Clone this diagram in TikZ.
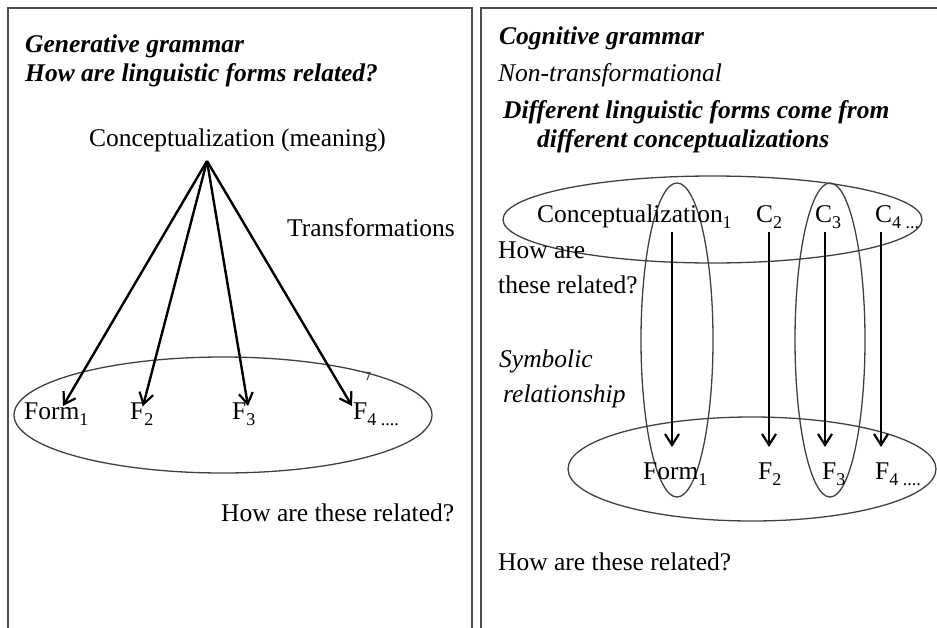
\documentclass[tikz,border=0pt]{standalone}
\usepackage{fontspec}
\setmainfont{Liberation Serif}
\usetikzlibrary{arrows.meta}
% subscript in a smaller size, set below the baseline
\newcommand{\sbs}[1]{\raisebox{-0.26em}{\fontsize{18}{18}\selectfont #1}}
\tikzset{
  txt/.style={anchor=base west, inner sep=0pt, font=\fontsize{25.5}{30}\selectfont},
  bfit/.style={txt, font=\fontsize{25.5}{30}\selectfont\bfseries\itshape},
  itx/.style={txt, font=\fontsize{25.5}{30}\selectfont\itshape},
  arr/.style={line width=2.4pt, black, -{Straight Barb[length=11pt,width=14pt,line width=2.2pt]}},
  ell/.style={draw=black!75, line width=1.3pt},
  panel/.style={draw=black!70, line width=1.8pt}
}
\begin{document}
\begin{tikzpicture}[x=1pt, y=-1pt]
\useasboundingbox (0,0) rectangle (937,627);

% panel frames
\draw[panel] (8,632) -- (8,8) -- (472,8) -- (472,632);
\draw[panel] (481,632) -- (481,8) -- (942,8);

% ---------- generative grammar ----------
\node[bfit] (gtitle) at (25,52) {Generative grammar};
\node[bfit] (gq) at (25,81) {How are linguistic forms related?};
\node[txt] (gconc) at (89,146) {Conceptualization (meaning)};
\node[txt] (trans) at (287,236) {Transformations};

\draw[ell] (223,415) ellipse [x radius=209, y radius=58];
\draw[black!75, line width=1pt] (363,372) -- (370,372.5) -- (367,380);

\node[txt] (gf1) at (24,419) {Form\sbs{1}};
\node[txt] (gf2) at (130,419) {F\sbs{2}};
\node[txt] (gf3) at (232,419) {F\sbs{3}};
\node[txt] (gf4) at (353,419) {F\sbs{4 ....}};

\coordinate (apex) at (207,161);
\coordinate (t1) at (63,406);
\coordinate (t2) at (143,406);
\coordinate (t3) at (248,406);
\coordinate (t4) at (352,406);
\foreach \t in {t1,t2,t3,t4} \draw[arr] (apex) -- (\t);

\node[txt] (grel) at (221,521) {How are these related?};

% ---------- cognitive grammar ----------
\node[bfit] (ctitle) at (499,44) {Cognitive grammar};
\node[itx] (nont) at (498,81) {Non-transformational};
\node[bfit] (diff1) at (503,118) {Different linguistic forms come from};
\node[bfit] (diff2) at (537,147) {different conceptualizations};

\draw[ell] (712.5,219.5) ellipse [x radius=209.5, y radius=43.5];
\draw[ell] (677,340) ellipse [x radius=36, y radius=157];
\draw[ell] (830,340) ellipse [x radius=35, y radius=157];
\draw[ell] (752,469) ellipse [x radius=184, y radius=52];

\node[txt] (cc1) at (537,222) {Conceptualization\sbs{1}};
\node[txt] (cc2) at (756,222) {C\sbs{2}};
\node[txt] (cc3) at (815,222) {C\sbs{3}};
\node[txt] (cc4) at (875,222) {C\sbs{4 ...}};

\node[txt] (how1) at (498,258) {How are};
\node[txt] (how2) at (498,293) {these related?};
\node[itx] (sym1) at (499,367) {Symbolic};
\node[itx] (sym2) at (503,402) {relationship};

\node[txt] (cf1) at (643,479) {Form\sbs{1}};
\node[txt] (cf2) at (758,479) {F\sbs{2}};
\node[txt] (cf3) at (822,479) {F\sbs{3}};
\node[txt] (cf4) at (875,479) {F\sbs{4 ....}};

\foreach \i/\x in {1/672,2/769,3/825,4/881} {
  \coordinate (s\i) at (\x,232);
  \coordinate (e\i) at (\x,447);
  \draw[arr] (s\i) -- (e\i);
}

\node[txt] (crel) at (498,570) {How are these related?};
\end{tikzpicture}
\end{document}
